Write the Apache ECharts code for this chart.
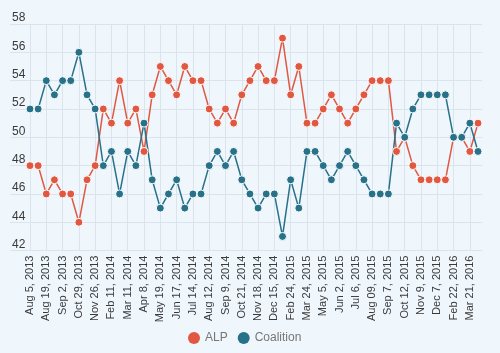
<!DOCTYPE html>
<html>
<head>
<meta charset="utf-8">
<script src="https://cdn.jsdelivr.net/npm/echarts@6/dist/echarts.min.js"></script>
<style>
  html, body { margin: 0; padding: 0; background: #eff6fc; }
  #main { width: 500px; height: 353px; }
</style>
</head>
<body>
<div id="main"></div>
<script>
// labels shown on the axis (every second poll)
var tickLabels = ['Aug 5, 2013', 'Aug 19, 2013', 'Sep 2, 2013', 'Oct 29, 2013', 'Nov 26, 2013',
    'Feb 11, 2014', 'Mar 11, 2014', 'Apr 8, 2014', 'May 19, 2014', 'Jun 17, 2014', 'Jul 14, 2014',
    'Aug 12, 2014', 'Sep 9, 2014', 'Oct 21, 2014', 'Nov 18, 2014', 'Dec 15, 2014', 'Feb 24, 2015',
    'Mar 24, 2015', 'May 5, 2015', 'Jun 2, 2015', 'Jul 6, 2015', 'Aug 09, 2015', 'Sep 7, 2015',
    'Oct 12, 2015', 'Nov 9, 2015', 'Dec 7, 2015', 'Feb 22, 2016', 'Mar 21, 2016'];

var alp = [48, 48, 46, 47, 46, 46, 44, 47, 48, 52, 51, 54, 51, 52, 49, 53, 55, 54,
    53, 55, 54, 54, 52, 51, 52, 51, 53, 54, 55, 54, 54, 57, 53, 55, 51, 51, 52, 53,
    52, 51, 52, 53, 54, 54, 54, 49, 50, 48, 47, 47, 47, 47, 50, 50, 49, 51];

var coalition = [52, 52, 54, 53, 54, 54, 56, 53, 52, 48, 49, 46, 49, 48, 51, 47, 45, 46,
    47, 45, 46, 46, 48, 49, 48, 49, 47, 46, 45, 46, 46, 43, 47, 45, 49, 49, 48, 47,
    48, 49, 48, 47, 46, 46, 46, 51, 50, 52, 53, 53, 53, 53, 50, 50, 51, 49];

var yTicks = [42, 44, 46, 48, 50, 52, 54, 56, 58];

window.addEventListener('load', function () {
    var chart = echarts.init(document.getElementById('main'));

    // the in-between polls have no visible label
    var categories = [];
    for (var i = 0; i < alp.length; i++) {
        categories.push(i % 2 == 0 ? tickLabels[i / 2] : '');
    }

    var font = 'Liberation Sans, Arial, sans-serif';

    var option = {
        backgroundColor: '#eff6fc',
        animation: false,
        textStyle: { fontFamily: font },
        legend: {
            data: ['ALP', 'Coalition'],
            icon: 'circle',
            itemWidth: 12,
            itemHeight: 12,
            itemGap: 10,
            padding: 0,
            left: 188,
            top: 332,
            itemStyle: { borderWidth: 0 },
            textStyle: { color: '#777', fontSize: 12, fontFamily: font }
        },
        grid: [
            { left: 10, right: 18, top: 24, height: 226.6 },
            { left: 30, right: 22, top: 24, height: 226.6 }
        ],
        xAxis: [
            { gridIndex: 0, type: 'value', show: false, min: 0, max: 1 },
            {
                gridIndex: 1,
                type: 'category',
                data: categories,
                boundaryGap: false,
                axisLine: { show: false },
                axisTick: { show: false },
                axisLabel: {
                    interval: 1,
                    rotate: 90,
                    margin: 5,
                    fontSize: 11,
                    color: '#3a3a3a',
                    fontFamily: font
                },
                splitLine: {
                    show: true,
                    interval: 1,
                    lineStyle: { color: '#dbe3ed', width: 1 }
                }
            }
        ],
        yAxis: [
            {
                gridIndex: 0,
                type: 'value',
                min: yTicks[0],
                max: yTicks[yTicks.length - 1],
                interval: 2,
                axisLine: { show: false },
                axisTick: { show: false },
                axisLabel: {
                    inside: true,
                    margin: 2,
                    verticalAlign: 'bottom',
                    fontSize: 12,
                    color: '#3a3a3a',
                    fontFamily: font
                },
                splitLine: { lineStyle: { color: '#dbe3ed', width: 1 } }
            },
            {
                gridIndex: 1,
                type: 'value',
                min: yTicks[0],
                max: yTicks[yTicks.length - 1],
                interval: 2,
                show: false,
                splitLine: { show: false }
            }
        ],
        series: [
            {
                name: 'ALP',
                type: 'line',
                xAxisIndex: 1,
                yAxisIndex: 1,
                data: alp,
                symbol: 'circle',
                symbolSize: 8,
                showAllSymbol: true,
                lineStyle: { color: '#e05842', width: 1.5 },
                itemStyle: { color: '#e05842', borderColor: '#fff', borderWidth: 1 }
            },
            {
                name: 'Coalition',
                type: 'line',
                xAxisIndex: 1,
                yAxisIndex: 1,
                data: coalition,
                symbol: 'circle',
                symbolSize: 8,
                showAllSymbol: true,
                lineStyle: { color: '#277189', width: 1.5 },
                itemStyle: { color: '#277189', borderColor: '#fff', borderWidth: 1 }
            }
        ]
    };
    chart.setOption(option);
});
</script>
</body>
</html>
